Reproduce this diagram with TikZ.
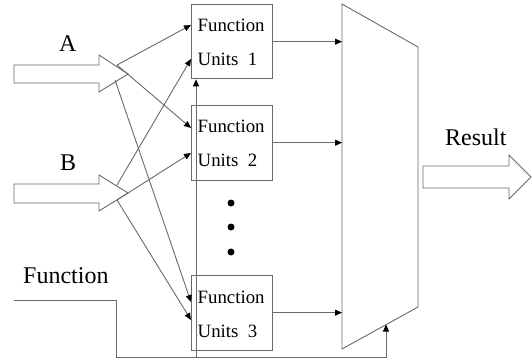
\documentclass[tikz,border=0pt]{standalone}
\usepackage{fontspec}
\setmainfont{Liberation Serif}
\usetikzlibrary{arrows.meta}
\definecolor{linegray}{RGB}{105,105,105}
\begin{document}
\begin{tikzpicture}[x=1pt,y=-1pt,
  wire/.style={draw=linegray, line width=0.9pt},
  feed/.style={wire, -{Triangle[length=7pt,width=6pt,color=black]}},
  unit/.style={draw=linegray, line width=0.9pt, minimum width=81pt,
    minimum height=74.5pt, anchor=north west, inner sep=0pt},
  lbl/.style={font=\fontsize{24}{24}\selectfont, inner sep=0pt, anchor=base west},
  utxt/.style={font=\fontsize{18.8}{19}\selectfont, inner sep=0pt, anchor=base west},
  fat/.style={draw=linegray, line width=0.9pt, fill=white, line join=miter},
  dot/.style={circle, fill=black, inner sep=0pt, minimum size=7pt}]
\useasboundingbox (0,0) rectangle (532,358);

% function units
\node[unit] (fu1) at (191,4) {};
\node[unit] (fu2) at (191,105) {};
\node[unit] (fu3) at (191,275) {};
\node[utxt] (fu1a) at (197.5,32) {Function};
\node[utxt] (fu1b) at (197.5,66) {Units\ \ 1};
\node[utxt] (fu2a) at (197.5,133) {Function};
\node[utxt] (fu2b) at (197.5,167) {Units\ \ 2};
\node[utxt] (fu3a) at (197.5,303) {Function};
\node[utxt] (fu3b) at (197.5,337) {Units\ \ 3};

% ellipsis between unit 2 and unit 3
\node[dot] (d1) at (231,203) {};
\node[dot] (d2) at (231,227) {};
\node[dot] (d3) at (231,252) {};

% operand inputs (block arrows)
\draw[fat] (14,65) -- (99,65) -- (99,55) -- (128,74) -- (99,92) -- (99,83) -- (14,83) -- cycle;
\draw[fat] (14,184) -- (99,184) -- (99,175) -- (128,193) -- (99,211) -- (99,203) -- (14,203) -- cycle;
\node[lbl] (la) at (59,52) {A};
\node[lbl] (lb) at (60,171) {B};

% result output (block arrow)
\draw[fat] (423,166) -- (509,166) -- (509,155) -- (531,177) -- (509,199) -- (509,188) -- (423,188) -- cycle;
\node[lbl] (lr) at (445,146) {Result};

% selector (multiplexer)
\coordinate (muxTL) at (342,4);
\coordinate (muxTR) at (418,47);
\coordinate (muxBR) at (418,307);
\coordinate (muxBL) at (342,349);
\draw[wire, line join=miter] (muxTL) -- (muxTR) -- (muxBR) -- (muxBL) -- cycle;

% fan-out points on the operand arrows
\coordinate (aup) at (117,65);
\coordinate (alo) at (115,80);
\coordinate (bup) at (117,185);
\coordinate (blo) at (117,200);

\draw[feed] (aup) -- ([yshift=-21pt]fu1.north west);
\draw[feed] (aup) -- ([yshift=-23pt]fu2.north west);
\draw[feed] (alo) -- ([yshift=-27pt]fu3.north west);
\draw[feed] (bup) -- ([yshift=-55pt]fu1.north west);
\draw[feed] (blo) -- ([yshift=-48pt]fu2.north west);
\draw[feed] (blo) -- ([yshift=-45pt]fu3.north west);

% unit outputs into the selector
\draw[feed] (fu1.east) -- (fu1.east -| muxTL);
\draw[feed] (fu2.east) -- (fu2.east -| muxTL);
\draw[feed] (fu3.east) -- (fu3.east -| muxTL);

% function select line
\node[lbl] (lf) at (23,283) {Function};
\coordinate (fstart) at (14,300);
\coordinate (fcorner) at (116,300);
\coordinate (fbottom) at (116,357);
\coordinate (tap) at (196,357);
\coordinate (sel) at (386,324.5);
\draw[feed, line join=miter] (fstart) -- (fcorner) -- (fbottom) -- (fbottom -| sel) -- (sel);
\draw[feed] (tap) -- (tap |- fu1.south);
\end{tikzpicture}
\end{document}
